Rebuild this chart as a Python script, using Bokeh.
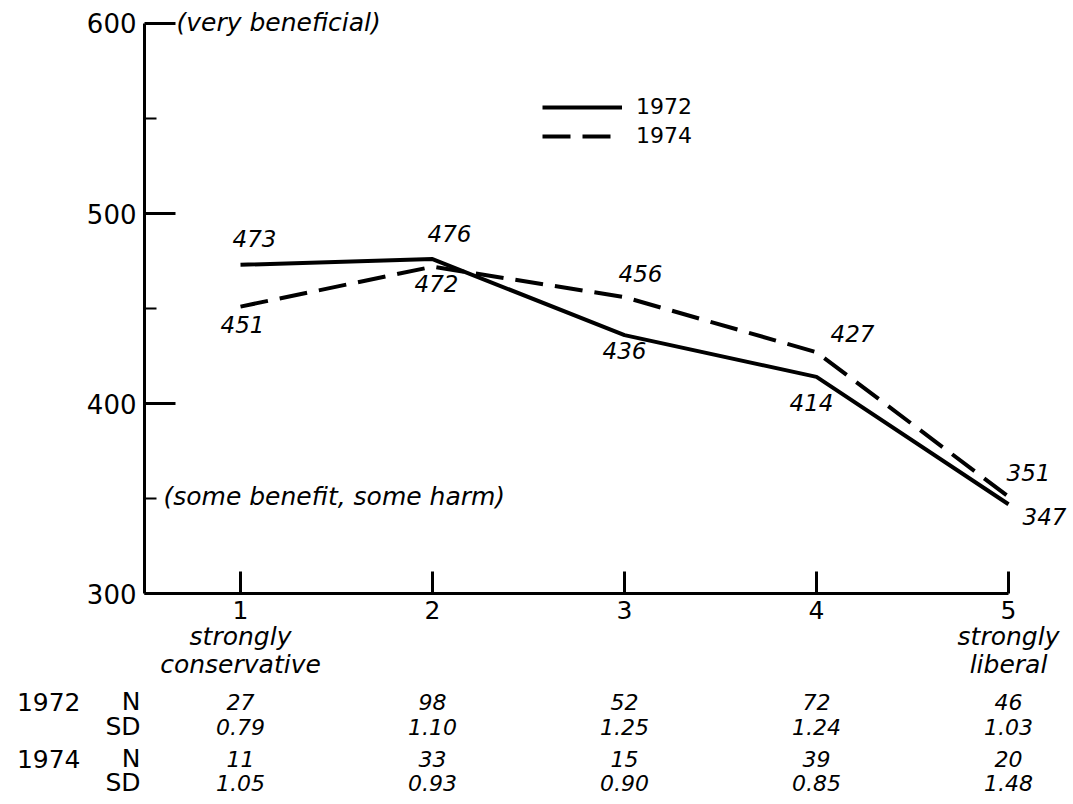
from bokeh.plotting import figure
from bokeh.models import ColumnDataSource, FixedTicker, Range1d
from bokeh.core.properties import value
from bokeh.embed import file_html
from bokeh.resources import INLINE

# ---------------- data ----------------
categories = [1, 2, 3, 4, 5]
mean_1972 = [473, 476, 436, 414, 347]
mean_1974 = [451, 472, 456, 427, 351]
n_1972 = [27, 98, 52, 72, 46]
sd_1972 = ["0.79", "1.10", "1.25", "1.24", "1.03"]
n_1974 = [11, 33, 15, 39, 20]
sd_1974 = ["1.05", "0.93", "0.90", "0.85", "1.48"]
y_ticks = [300, 400, 500, 600]
y_minor_ticks = [350, 450, 550]
x_tick_labels = ["1", "2", "3", "4", "5"]
end_label_top = ["strongly", "", "", "", "strongly"]
end_label_bottom = ["conservative", "", "", "", "liberal"]
series_names = ["1972", "1974"]
note_top = "(very beneficial)"
note_mid = "(some benefit, some harm)"
note_top_level = 600
note_mid_level = 350
axis_origin_x = 0.5
axis_origin_y = 300

# ---------------- styles (screen offsets in px) ----------------
lab72_dx = [14, 17, 0, -5, 36]
lab72_dy = [-26, -26, 15, 26, 12]
lab74_dx = [2, 4, 16, 36, 20]
lab74_dy = [18, 17, -24, -19, -24]
FONT = value("DejaVu Sans")

p = figure(width=1072, height=803,
           x_range=Range1d(-0.25, 5.3333), y_range=Range1d(189.5, 612.1),
           output_backend="svg", toolbar_location=None, tools="",
           min_border=0)
p.min_border_left = p.min_border_right = p.min_border_top = p.min_border_bottom = 0
p.outline_line_color = None
p.background_fill_color = "white"
p.border_fill_color = "white"
p.xgrid.visible = False
p.ygrid.visible = False

# x axis
xa = p.xaxis[0]
xa.fixed_location = axis_origin_y
xa.bounds = (axis_origin_x, categories[-1])
xa.ticker = FixedTicker(ticks=categories, minor_ticks=[])
xa.major_label_overrides = {c: t for c, t in zip(categories, x_tick_labels)}
xa.major_label_text_font = "DejaVu Sans"
xa.major_label_text_font_size = "25px"
xa.major_label_text_color = "black"
xa.major_label_standoff = 7
xa.major_tick_in = 22
xa.major_tick_out = 0
xa.minor_tick_in = 0
xa.minor_tick_out = 0
xa.axis_line_width = 3
xa.axis_line_color = "black"
xa.major_tick_line_width = 3
xa.major_tick_line_color = "black"

# y axis
ya = p.yaxis[0]
ya.fixed_location = axis_origin_x
ya.bounds = (axis_origin_y, note_top_level)
ya.ticker = FixedTicker(ticks=y_ticks, minor_ticks=y_minor_ticks)
ya.major_label_text_font = "DejaVu Sans"
ya.major_label_text_font_size = "26px"
ya.major_label_text_color = "black"
ya.major_label_standoff = 8
ya.major_tick_in = 31
ya.major_tick_out = 0
ya.minor_tick_in = 12
ya.minor_tick_out = 0
ya.axis_line_width = 3
ya.axis_line_color = "black"
ya.major_tick_line_width = 3
ya.major_tick_line_color = "black"
ya.minor_tick_line_width = 2
ya.minor_tick_line_color = "black"

# lines
p.line(categories, mean_1972, line_width=4, line_color="black",
       legend_label=series_names[0])
p.line(categories, mean_1974, line_width=4, line_color="black",
       line_dash="28 12", legend_label=series_names[1])

# point labels
src72 = ColumnDataSource(dict(x=categories, y=mean_1972,
                              t=[str(v) for v in mean_1972],
                              dx=lab72_dx, dy=lab72_dy))
src74 = ColumnDataSource(dict(x=categories, y=mean_1974,
                              t=[str(v) for v in mean_1974],
                              dx=lab74_dx, dy=lab74_dy))
for s in (src72, src74):
    p.text(x="x", y="y", text="t", source=s, x_offset="dx", y_offset="dy",
           text_font=FONT, text_font_style="italic", text_font_size="23px",
           text_align="center", text_baseline="middle", text_color="black")

# notes on the y axis
p.text(x=[axis_origin_x], y=[note_top_level], text=[note_top], x_offset=32,
       y_offset=-1,
       text_font=FONT, text_font_style="italic", text_font_size="25px",
       text_align="left", text_baseline="middle", text_color="black")
p.text(x=[axis_origin_x], y=[note_mid_level], text=[note_mid], x_offset=19,
       y_offset=-2,
       text_font=FONT, text_font_style="italic", text_font_size="25px",
       text_align="left", text_baseline="middle", text_color="black")

# category end labels
base = [axis_origin_y] * len(categories)
p.text(x=categories, y=base, text=end_label_top, y_offset=43,
       text_font=FONT, text_font_style="italic", text_font_size="25px",
       text_align="center", text_baseline="middle", text_color="black")
p.text(x=categories, y=base, text=end_label_bottom, y_offset=71,
       text_font=FONT, text_font_style="italic", text_font_size="25px",
       text_align="center", text_baseline="middle", text_color="black")

# table rows
row_off = [108, 133, 165, 189]
rows = [
    [str(v) for v in n_1972],
    sd_1972,
    [str(v) for v in n_1974],
    sd_1974,
]
for texts, off in zip(rows, row_off):
    p.text(x=categories, y=base, text=texts, y_offset=off,
           text_font=FONT, text_font_style="italic", text_font_size="22px",
           text_align="center", text_baseline="middle", text_color="black")

# row headers
row_year = [series_names[0], "", series_names[1], ""]
row_stat = ["N", "SD", "N", "SD"]
hx = [axis_origin_x] * 4
hy = [axis_origin_y] * 4
p.text(x=hx, y=hy, text=row_year, y_offset=row_off, x_offset=-64,
       text_font=FONT, text_font_size="25px",
       text_align="right", text_baseline="middle", text_color="black")
p.text(x=hx, y=hy, text=row_stat, y_offset=row_off, x_offset=-4,
       text_font=FONT, text_font_size="25px",
       text_align="right", text_baseline="middle", text_color="black")

# legend
lg = p.legend[0]
lg.location = (542, 655)
lg.background_fill_alpha = 0
lg.border_line_alpha = 0
lg.padding = 0
lg.margin = 0
lg.spacing = 4
lg.glyph_width = 80
lg.glyph_height = 20
lg.label_standoff = 14
lg.label_text_font = "DejaVu Sans"
lg.label_text_font_size = "22px"
lg.label_text_color = "black"

open("out.html", "w").write(file_html(p, INLINE))
